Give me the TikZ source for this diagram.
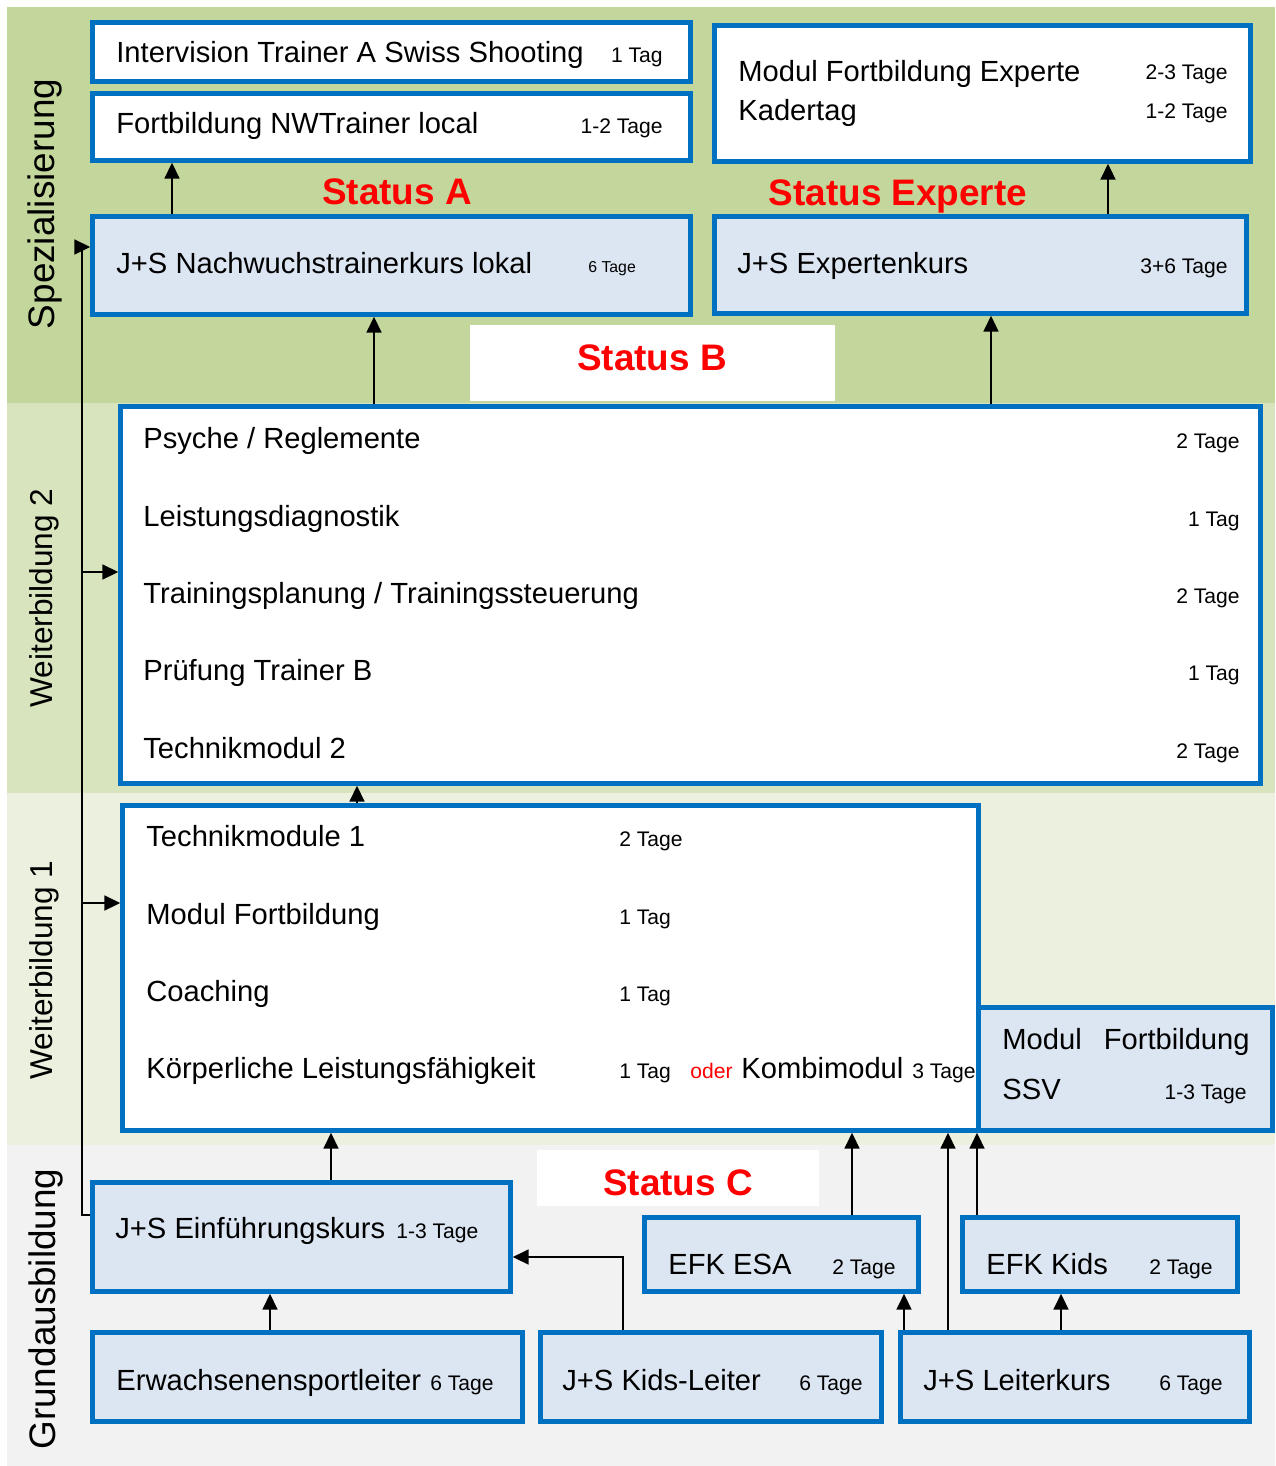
\documentclass[tikz,border=0pt]{standalone}
\usepackage{fontspec}
\setmainfont{Liberation Sans}
\usepackage{xcolor}
\usetikzlibrary{positioning,arrows.meta}

\definecolor{bandSpezi}{HTML}{C3D69B}
\definecolor{bandWeiterII}{HTML}{D7E4BD}
\definecolor{bandWeiterI}{HTML}{EBF1DE}
\definecolor{bandGrund}{HTML}{F2F2F2}
\definecolor{kursBlue}{HTML}{0070C0}
\definecolor{kursFill}{HTML}{DCE6F2}

\newlength{\pxu}
\setlength{\pxu}{0.02cm}

\tikzset{
  box/.style 2 args={draw=kursBlue, line width=2.6pt, minimum width=#1\pxu, minimum height=#2\pxu, inner sep=0pt},
  whitebox/.style 2 args={box={#1}{#2}, fill=white},
  bluebox/.style 2 args={box={#1}{#2}, fill=kursFill},
  statusbg/.style 2 args={fill=white, minimum width=#1\pxu, minimum height=#2\pxu, inner sep=0pt},
  lbl/.style={anchor=base west, inner sep=0pt, font=\fontsize{16.6}{20}\selectfont},
  dur/.style={anchor=base west, inner sep=0pt, font=\fontsize{12}{14}\selectfont},
  durr/.style={dur, anchor=base east},
  status/.style={anchor=base, inner sep=0pt, text=red, font=\bfseries\fontsize{21}{25}\selectfont},
  band/.style={anchor=base, rotate=90, inner sep=0pt},
  arr/.style={-{Triangle[length=9pt,width=8.5pt]}, line width=1.1pt},
}

\begin{document}
\begin{tikzpicture}[x=0.02cm, y=-0.02cm]
    \useasboundingbox (0,0) rectangle (1275,1466);

    % Bands
    \fill[bandSpezi] (7,7) rectangle (1275,403);
    \fill[bandWeiterII] (7,403) rectangle (1275,793);
    \fill[bandWeiterI] (7,793) rectangle (1275,1145);
    \fill[bandGrund] (7,1145) rectangle (1275,1466);
    \node[band, font=\fontsize{21}{25}\selectfont] (lblSpezi) at (54,204) {Spezialisierung};
    \node[band, font=\fontsize{18}{22}\selectfont] (lblWeiterII) at (52,598) {Weiterbildung 2};
    \node[band, font=\fontsize{18}{22}\selectfont] (lblWeiterI) at (52,970) {Weiterbildung 1};
    \node[band, font=\fontsize{21}{25}\selectfont] (lblGrund) at (55,1309) {Grundausbildung};

    % Spezialisierung
    \node[whitebox={598}{59}] (interv) at (391.5,52) {};
    \node[lbl] (interv-t) at (116,63) {Intervision Trainer A Swiss Shooting};
    \node[durr] (interv-d) at (663,63) {1 Tag};
    \node[whitebox={598}{67}] (nwfort) at (391.5,127) {};
    \node[lbl] (nwfort-t) at (116,134) {Fortbildung NWTrainer local};
    \node[durr] (nwfort-d) at (663,134) {1-2 Tage};
    \node[whitebox={536}{136}] (expfort) at (982.5,93.5) {};
    \node[lbl] (expfort-t) at (738,82) {Modul Fortbildung Experte};
    \node[durr] (expfort-d) at (1228,80) {2-3 Tage};
    \node[lbl] (kader-t) at (738,121) {Kadertag};
    \node[durr] (kader-d) at (1228,119) {1-2 Tage};

    \node[status] (statA) at (397,205) {Status A};
    \node[status] (statExp) at (898,206) {Status Experte};

    \node[bluebox={598}{98}] (nwkurs) at (391.5,265.5) {};
    \node[lbl] (nwkurs-t) at (116,274) {J+S Nachwuchstrainerkurs lokal};
    \node[dur, font=\fontsize{9}{11}\selectfont] (nwkurs-d) at (588,273) {6 Tage};
    \node[bluebox={532}{97}] (expkurs) at (980.5,265) {};
    \node[lbl] (expkurs-t) at (737,274) {J+S Expertenkurs};
    \node[durr] (expkurs-d) at (1228,274) {3+6 Tage};

    \node[statusbg={365}{76}] (statBbg) at (652.5,363) {};
    \node[status] (statB) at (652,370) {Status B};

    % Weiterbildung 2
    \node[whitebox={1140}{377}] (wb2) at (690.5,595) {};
    \foreach \y/\txt/\d [count=\i] in {448/{Psyche / Reglemente}/2 Tage, 526/Leistungsdiagnostik/1 Tag,
        603/{Trainingsplanung / Trainingssteuerung}/2 Tage, 680/Prüfung Trainer B/1 Tag, 758/Technikmodul 2/2 Tage} {
      \node[lbl] (wb2-t\i) at (143,\y) {\txt};
      \node[durr] (wb2-d\i) at (1240,\y) {\d};
    }

    % Weiterbildung 1
    \node[whitebox={856}{325}] (wb1) at (550.5,968) {};
    \foreach \y/\txt/\d [count=\i] in {846/Technikmodule 1/2 Tage, 924/Modul Fortbildung/1 Tag,
        1001/Coaching/1 Tag, 1078/Körperliche Leistungsfähigkeit/1 Tag} {
      \node[lbl] (wb1-t\i) at (146,\y) {\txt};
      \node[dur] (wb1-d\i) at (619,\y) {\d};
    }
    \node[dur, text=red] (oder) at (690,1078) {oder};
    \node[lbl] (kombi-t) at (741,1078) {Kombimodul};
    \node[dur] (kombi-d) at (912,1078) {3 Tage};

    \node[bluebox={294}{123}] (ssv) at (1125.5,1069) {};
    \node[lbl] (ssv-t1) at (1002,1049) {Modul};
    \node[lbl, anchor=base east] (ssv-t2) at (1250,1049) {Fortbildung};
    \node[lbl] (ssv-t3) at (1002,1099) {SSV};
    \node[durr] (ssv-d) at (1247,1099) {1-3 Tage};

    % Grundausbildung
    \node[statusbg={282}{56}] (statCbg) at (678,1178) {};
    \node[status] (statC) at (678,1195) {Status C};

    \node[bluebox={418}{109}] (einf) at (301.5,1237) {};
    \node[lbl] (einf-t) at (115,1238) {J+S Einführungskurs};
    \node[dur] (einf-d) at (396,1238) {1-3 Tage};
    \node[bluebox={274}{74}] (esa) at (781.5,1254.5) {};
    \node[lbl] (esa-t) at (668,1274) {EFK ESA};
    \node[dur] (esa-d) at (832,1274) {2 Tage};
    \node[bluebox={275}{74}] (kids) at (1100,1254.5) {};
    \node[lbl] (kids-t) at (986,1274) {EFK Kids};
    \node[dur] (kids-d) at (1149,1274) {2 Tage};

    \node[bluebox={430}{89}] (esl) at (307.5,1377) {};
    \node[lbl] (esl-t) at (116,1390) {Erwachsenensportleiter};
    \node[dur] (esl-d) at (430,1390) {6 Tage};
    \node[bluebox={341}{89}] (kidsl) at (711,1377) {};
    \node[lbl] (kidsl-t) at (562,1390) {J+S Kids-Leiter};
    \node[dur] (kidsl-d) at (799,1390) {6 Tage};
    \node[bluebox={349}{89}] (lk) at (1075,1377) {};
    \node[lbl] (lk-t) at (923,1390) {J+S Leiterkurs};
    \node[dur] (lk-d) at (1159,1390) {6 Tage};

    % Connections
    \draw[arr] (nwkurs.north -| 172,0) -- (nwfort.south -| 172,0);
    \draw[arr] (expkurs.north -| 1108,0) -- (expfort.south -| 1108,0);
    \draw[arr] (wb2.north -| 374,0) -- (nwkurs.south -| 374,0);
    \draw[arr] (wb2.north -| 991,0) -- (expkurs.south -| 991,0);
    \draw[arr] (wb1.north -| 357,0) -- (wb2.south -| 357,0);
    \draw[arr] (einf.north -| 331,0) -- (wb1.south -| 331,0);
    \draw[arr] (esa.north -| 852,0) -- (wb1.south -| 852,0);
    \draw[arr] (lk.north -| 948,0) -- (wb1.south -| 948,0);
    \draw[arr] (kids.north -| 977,0) -- (wb1.south -| 977,0);
    \draw[arr] (lk.north -| 904,0) -- (esa.south -| 904,0);
    \draw[arr] (lk.north -| 1061,0) -- (kids.south -| 1061,0);
    \draw[arr] (esl.north -| 270,0) -- (einf.south -| 270,0);
    \draw[arr] (kidsl.north -| 623,0) |- (einf.east |- 0,1257);

    % Left rail
    \coordinate (rail) at (82,247);
    \draw[arr] (einf.west |- 0,1215) -| (rail) -- (nwkurs.west |- rail);
    \draw[arr] (rail |- 0,572) -- (wb2.west |- 0,572);
    \draw[arr] (rail |- 0,903) -- (wb1.west |- 0,903);
\end{tikzpicture}
\end{document}
